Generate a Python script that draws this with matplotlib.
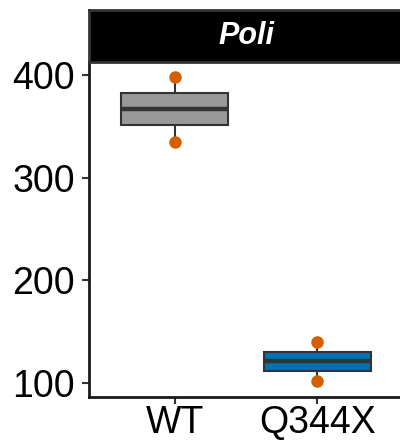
import matplotlib
matplotlib.use("Agg")
import matplotlib.pyplot as plt

plt.rcParams['font.family'] = ['Liberation Sans', 'DejaVu Sans']

categories = ["WT", "Q344X"]
values = {"WT": [335, 367, 398], "Q344X": [102, 121, 140]}
box_colors = ["#999999", "#0072B2"]
point_color = "#D55E00"
yticks = [100, 200, 300, 400]
panel_title = "Poli"

fig = plt.figure(figsize=(4.0, 4.41), dpi=100)
ax = fig.add_axes([0.2225, 0.0998, 0.785, 0.7596])

positions = [1, 2]
for pos, c in zip(positions, categories):
    ax.plot([pos] * len(values[c]), values[c], 'o', color=point_color,
            markersize=9, markeredgewidth=0, zorder=2.5, clip_on=False)

bp = ax.boxplot([values[c] for c in categories], positions=positions, widths=0.75,
                patch_artist=True, whis=1.5, showfliers=False,
                medianprops=dict(color="#333333", linewidth=3.2, zorder=4),
                boxprops=dict(edgecolor="#333333", linewidth=1.5, zorder=3),
                whiskerprops=dict(color="#333333", linewidth=1.5, zorder=2),
                capprops=dict(linewidth=0))
for patch, col in zip(bp['boxes'], box_colors):
    patch.set_facecolor(col)

ax.set_xlim(0.4, 2.6)
ax.set_ylim(86.4, 412.7)
ax.set_xticks(positions)
ax.set_xticklabels(categories)
ax.set_yticks(yticks)
ax.tick_params(axis='both', labelsize=27, width=1.5, length=5, color="#333333",
               labelcolor="black")
ax.tick_params(axis='x', pad=1)
ax.tick_params(axis='y', pad=5)
for s in ['top', 'right']:
    ax.spines[s].set_visible(False)
for s in ['left', 'bottom']:
    ax.spines[s].set_linewidth(2)
    ax.spines[s].set_color("#1a1a1a")

# facet strip
sax = fig.add_axes([0.2225, 0.8594, 0.785, 0.1179])
sax.set_xticks([]); sax.set_yticks([])
sax.set_facecolor("black")
for s in sax.spines.values():
    s.set_color("#333333")
    s.set_linewidth(2)
sax.text(0.5, 0.5, panel_title, transform=sax.transAxes, ha='center', va='center',
         color='white', fontsize=22, fontweight='bold', fontstyle='italic')

fig.savefig("out.png", dpi=100)
